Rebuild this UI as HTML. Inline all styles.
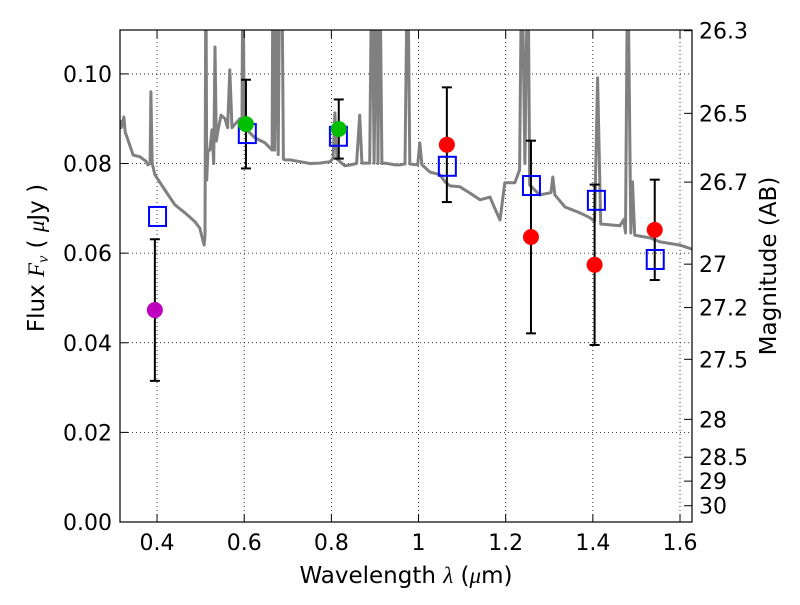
<!DOCTYPE html>
<html><head><meta charset="utf-8"><style>
body{margin:0;background:#fff;}
svg text{font-family:"DejaVu Sans","Liberation Sans",sans-serif;fill:#000;}
</style></head><body>
<svg id="chart" width="800" height="600" xmlns="http://www.w3.org/2000/svg">
<defs><clipPath id="pc"><rect x="120" y="30" width="572" height="492"/></clipPath></defs>
<rect x="0" y="0" width="800" height="600" fill="#fff"/>
<g id="grid"></g>
<g id="marks" clip-path="url(#pc)"></g>
<rect x="120" y="30" width="572" height="492" fill="none" stroke="#000" stroke-width="1.2"/>
<g id="axes"></g>
<text x="406" y="583" font-size="23" text-anchor="middle">Wavelength  <tspan font-style="italic" font-family="Liberation Serif">λ</tspan> (<tspan font-style="italic" font-family="Liberation Serif">μ</tspan>m)</text>
<text transform="translate(44,258) rotate(-90)" font-size="23" text-anchor="middle">Flux  <tspan font-style="italic" font-family="Liberation Serif">F<tspan font-size="16" dy="4">ν</tspan></tspan><tspan dy="-4">  (  </tspan><tspan font-style="italic" font-family="Liberation Serif">μ</tspan>Jy )</text>
<text transform="translate(776,266) rotate(-90)" font-size="23" text-anchor="middle">Magnitude (AB)</text>
</svg>
<script>
const xTicks=[0.4,0.6,0.8,1.0,1.2,1.4,1.6];
const xTickLabels=["0.4","0.6","0.8","1","1.2","1.4","1.6"];
const yTicks=[0,0.02,0.04,0.06,0.08,0.10];
const yTickLabels=["0.00","0.02","0.04","0.06","0.08","0.10"];
const magTicks=[26.3,26.5,26.7,27,27.2,27.5,28,28.5,29,30];
const magTickLabels=["26.3","26.5","26.7","27","27.2","27.5","28","28.5","29","30"];
const specWl=[0.315,0.318,0.324,0.327,0.331,0.345,0.361,0.375,0.379,0.384,0.386,0.389,0.395,0.418,0.441,0.464,0.487,0.498,0.505,0.508,0.510,0.512,0.514,0.517,0.521,0.526,0.530,0.533,0.536,0.540,0.547,0.556,0.562,0.567,0.572,0.590,0.595,0.597,0.600,0.602,0.625,0.648,0.664,0.666,0.670,0.673,0.678,0.682,0.686,0.690,0.693,0.705,0.728,0.751,0.774,0.797,0.804,0.808,0.813,0.820,0.831,0.843,0.858,0.865,0.870,0.888,0.893,0.898,0.904,0.907,0.911,0.916,0.923,0.946,0.957,0.969,0.975,0.980,0.998,1.003,1.008,1.026,1.049,1.060,1.072,1.095,1.118,1.141,1.164,1.175,1.187,1.198,1.221,1.232,1.237,1.244,1.251,1.255,1.278,1.304,1.308,1.313,1.336,1.370,1.393,1.404,1.411,1.418,1.462,1.471,1.475,1.480,1.487,1.491,1.496,1.508,1.531,1.554,1.600,1.627];
const specFlux=[0.0897,0.0880,0.0904,0.0870,0.0859,0.0819,0.0815,0.0805,0.0797,0.0800,0.0960,0.0800,0.0775,0.0741,0.0708,0.0690,0.0670,0.0656,0.0629,0.0618,0.0640,0.13,0.0763,0.0830,0.0830,0.0875,0.080,0.106,0.085,0.0875,0.0908,0.0900,0.0880,0.1009,0.0880,0.0900,0.0890,0.13,0.0880,0.0879,0.0857,0.0846,0.0830,0.13,0.083,0.13,0.082,0.13,0.13,0.081,0.0808,0.0808,0.0804,0.0800,0.0801,0.0804,0.0812,0.0913,0.0810,0.0804,0.0795,0.0797,0.0800,0.0908,0.0801,0.0801,0.13,0.0801,0.13,0.080,0.13,0.080,0.0801,0.0797,0.0797,0.0799,0.13,0.0799,0.0797,0.0846,0.0797,0.0781,0.0775,0.0760,0.0750,0.0748,0.0734,0.0719,0.0725,0.0700,0.0674,0.0757,0.0757,0.0786,0.13,0.080,0.13,0.0752,0.0730,0.0735,0.0770,0.0730,0.0703,0.0690,0.0679,0.0672,0.0991,0.0665,0.0661,0.0675,0.0645,0.13,0.0645,0.0759,0.0640,0.0638,0.0634,0.0625,0.0618,0.0609];
const modelWl=[0.400,0.606,0.815,1.065,1.258,1.407,1.542];
const modelFlux=[0.0683,0.0868,0.0862,0.0795,0.0752,0.0719,0.0587];
const obsWl=[0.395,0.604,0.817,1.065,1.258,1.404,1.542];
const obsFlux=[0.0473,0.0888,0.0877,0.0842,0.0636,0.0574,0.0652];
const obsErr=[0.0158,0.0099,0.0066,0.0128,0.0215,0.0179,0.0112];
const obsColor=["#bf00bf","#00bf00","#00bf00","#ff0000","#ff0000","#ff0000","#ff0000"];
const X0=0.315,X1=1.6275,Y1=0.1098;
const px=v=>120+(v-X0)/(X1-X0)*572;
const py=v=>522-v/Y1*492;
const NS="http://www.w3.org/2000/svg";
function mk(parent,tag,attrs){const e=document.createElementNS(NS,tag);for(const k in attrs)e.setAttribute(k,attrs[k]);parent.appendChild(e);return e;}
const grid=document.getElementById('grid'),axes=document.getElementById('axes'),marks=document.getElementById('marks');
xTicks.forEach((t,i)=>{const x=px(t);
 const g=mk(grid,'line',{x1:x,x2:x,y1:30,y2:522,stroke:'#000','stroke-width':0.8,'stroke-dasharray':'1,3'});
 
 
 mk(axes,'line',{x1:x,x2:x,y1:522,y2:514,stroke:'#000'});
 mk(axes,'line',{x1:x,x2:x,y1:30,y2:38,stroke:'#000'});
 const l=mk(axes,'text',{x:x,y:550,'font-size':22,'text-anchor':'middle'});l.textContent=xTickLabels[i];
 
 
});
yTicks.forEach((t,i)=>{const y=py(t);
 if(t>0){const g=mk(grid,'line',{x1:120,x2:692,y1:y,y2:y,stroke:'#000','stroke-width':0.8,'stroke-dasharray':'1,3'});
 
 }
 mk(axes,'line',{x1:120,x2:128,y1:y,y2:y,stroke:'#000'});
 const l=mk(axes,'text',{x:112,y:y+8,'font-size':22,'text-anchor':'end'});l.textContent=yTickLabels[i];
 
 
});
magTicks.forEach((m,i)=>{const y=py(Math.pow(10,(23.9-m)/2.5));
 mk(axes,'line',{x1:684,x2:692,y1:y,y2:y,stroke:'#000'});
 const l=mk(axes,'text',{x:699,y:y+8,'font-size':22});l.textContent=magTickLabels[i];
 
 
});
const pts=specWl.map((w,i)=>px(w).toFixed(1)+','+py(specFlux[i]).toFixed(1)).join(' ');
const sp=mk(marks,'polyline',{points:pts,fill:'none',stroke:'#808080','stroke-width':3,'stroke-linejoin':'round'});


obsWl.forEach((w,i)=>{const x=px(w),yt=py(obsFlux[i]+obsErr[i]),yb=py(obsFlux[i]-obsErr[i]);
 const g=mk(marks,'g',{});
 
 
 mk(g,'line',{x1:x,x2:x,y1:yt,y2:yb,stroke:'#000','stroke-width':2});
 mk(g,'line',{x1:x-5,x2:x+5,y1:yt,y2:yt,stroke:'#000','stroke-width':2});
 mk(g,'line',{x1:x-5,x2:x+5,y1:yb,y2:yb,stroke:'#000','stroke-width':2});
});
modelWl.forEach((w,i)=>{const r=mk(marks,'rect',{x:px(w)-8,y:py(modelFlux[i])-9,width:17,height:19,fill:'none',stroke:'#0000ff','stroke-width':2});
 
 
});
obsWl.forEach((w,i)=>{const c=mk(marks,'circle',{cx:px(w),cy:py(obsFlux[i]),r:8,fill:obsColor[i]});
 
 
});
</script>
</body></html>
